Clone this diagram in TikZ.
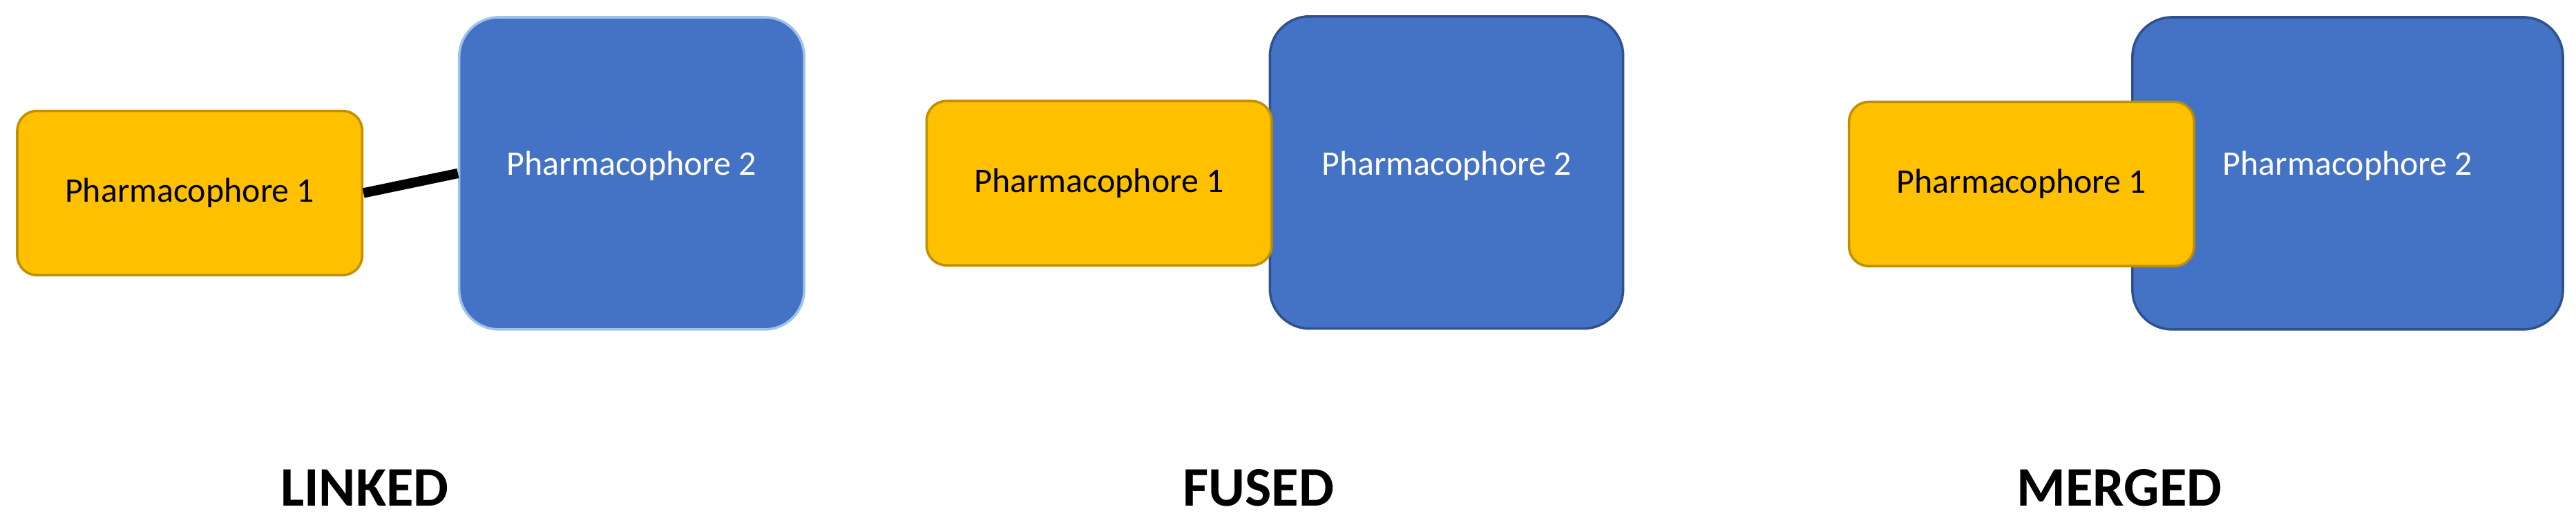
\documentclass[tikz,border=0pt]{standalone}
\usepackage{fontspec}
\setmainfont{Carlito}
\usetikzlibrary{positioning}
\definecolor{pyellow}{HTML}{FFC000}
\definecolor{pyedge}{HTML}{BF9000}
\definecolor{pblue}{HTML}{4472C4}
\definecolor{pbedge}{HTML}{2F528F}
\definecolor{plight}{HTML}{9DC3E6}
\tikzset{
  small/.style={draw=pyedge,fill=pyellow,line width=1.5pt,rounded corners=12pt,
    minimum width=210pt,minimum height=100pt,font=\fontsize{21}{25}\selectfont},
  big/.style={draw=pbedge,fill=pblue,line width=1.5pt,rounded corners=24pt,text=white,
    minimum width=210pt,minimum height=190pt,font=\fontsize{21}{25}\selectfont},
  title/.style={font=\bfseries\fontsize{34}{40}\selectfont}
}
\begin{document}
\begin{tikzpicture}[x=1pt,y=-1pt]
    \useasboundingbox (0,0) rectangle (1568,314);
    % linked
    \node[small] (ph1a) at (115.5,117.5) {Pharmacophore 1};
    \node[big,draw=plight] (ph2a) at (384.5,105.5) {};
    \node[text=white,font=\fontsize{21}{25}\selectfont] (t2a) at (384.5,101) {Pharmacophore 2};
    \draw[line width=6pt] (ph1a.east) -- (ph2a.west);
    \node[title] (linked) at (222,297) {LINKED};
    % fused
    \node[big,minimum width=215pt] (ph2b) at (880.5,105) {};
    \node[text=white,font=\fontsize{21}{25}\selectfont] (t2b) at (880.5,101) {Pharmacophore 2};
    \node[small] (ph1b) at (669,111.5) {Pharmacophore 1};
    \node[title] (fused) at (766,297) {FUSED};
    % merged
    \node[big,minimum width=262pt] (ph2c) at (1429,105.5) {};
    \node[text=white,font=\fontsize{21}{25}\selectfont] (t2c) at (1429,101) {Pharmacophore 2};
    \node[small] (ph1c) at (1230.5,112) {Pharmacophore 1};
    \node[title] (merged) at (1290,297) {MERGED};
\end{tikzpicture}
\end{document}
